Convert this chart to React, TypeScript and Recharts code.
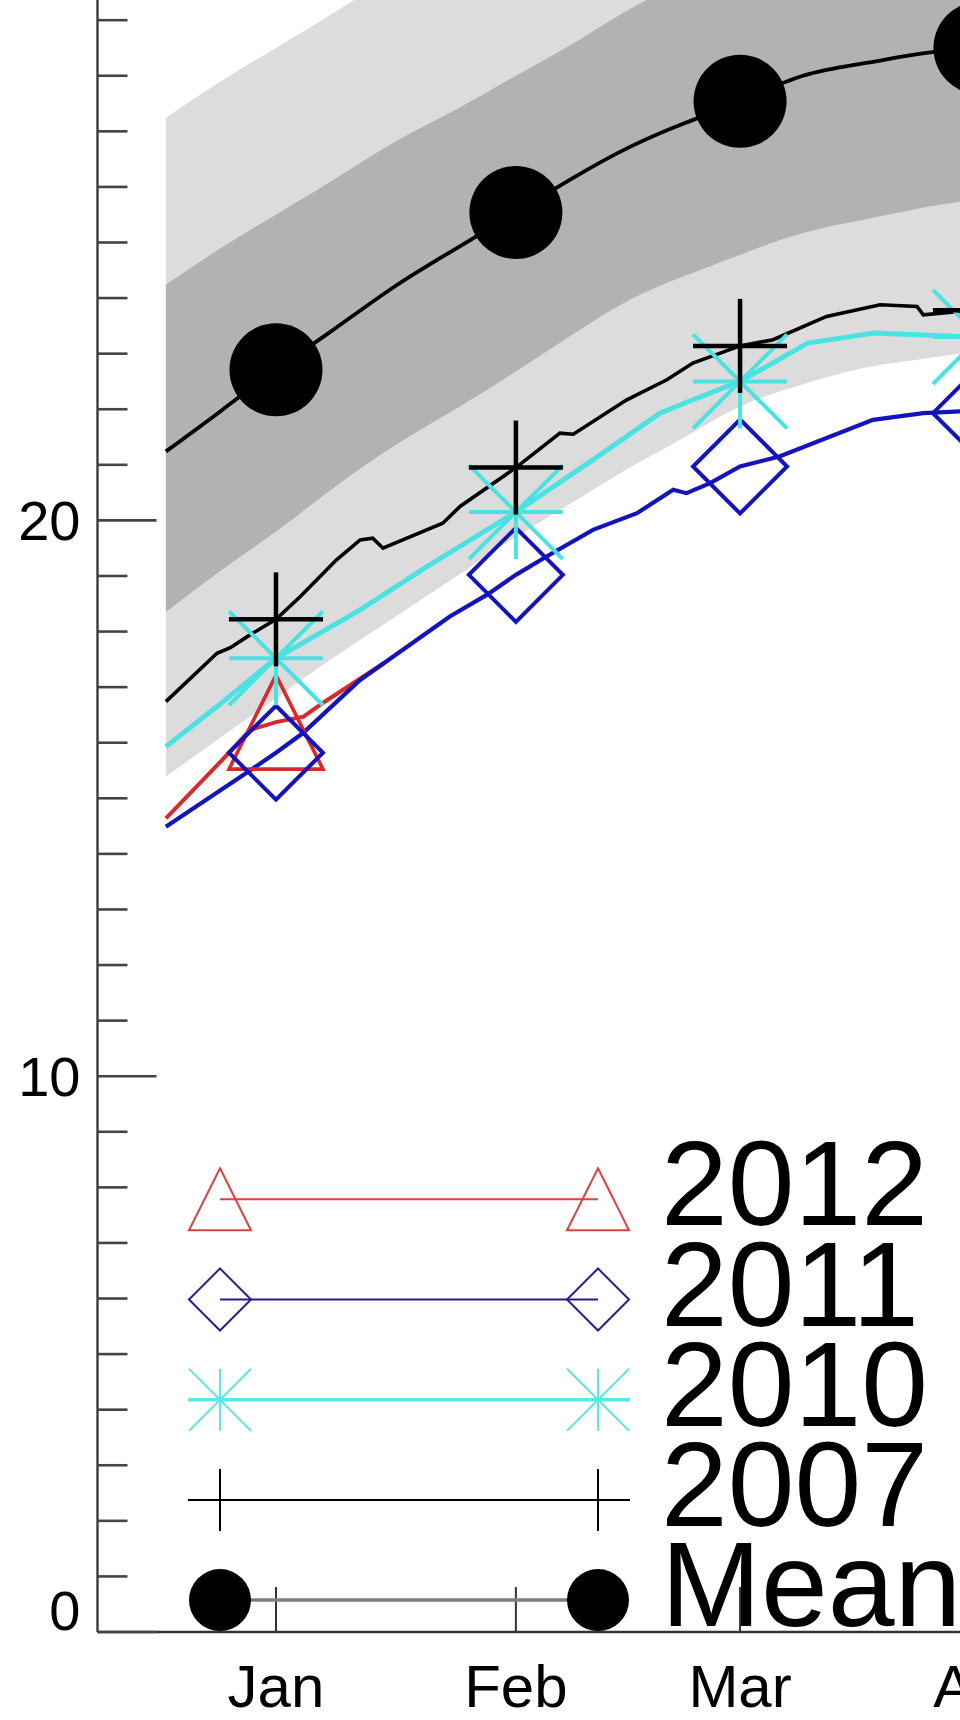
import React from 'react';
import { ComposedChart, Area, Line, XAxis, YAxis, Legend } from 'recharts';

const FONT = '"Liberation Sans", Arial, Helvetica, sans-serif';

// ---- axes ----
const MONTH_LABELS = ['Jan', 'Feb', 'Mar', 'Apr'];
const MONTH_DAYS = [15, 45.5, 74, 104.5];
const Y_TICKS = [0, 1, 2, 3, 4, 5, 6, 7, 8, 9, 10, 11, 12, 13, 14, 15, 16, 17, 18, 19, 20, 21, 22, 23, 24, 25, 26, 27, 28, 29];

// ---- climatology (mean and spread bands) ----
const BAND_DAYS = [1, 8, 15, 22, 30, 38, 45.5, 53, 60, 67, 74, 82, 90, 97, 104.5, 112];
const MEAN_VOLUME = [21.24, 21.97, 22.71, 23.4, 24.2, 24.9, 25.54, 26.18, 26.72, 27.15, 27.54, 28.0, 28.23, 28.4, 28.5, 28.6];
const SD1_LOW = [18.35, 19.1, 19.8, 20.55, 21.34, 22.02, 22.68, 23.37, 23.97, 24.4, 24.78, 25.17, 25.42, 25.62, 25.78, 25.88];
const SD1_HIGH = [24.24, 24.9, 25.5, 26.1, 26.8, 27.4, 28.0, 28.6, 29.2, 29.7, 30.1, 30.4, 30.7, 30.9, 31.0, 31.1];
const SD2_LOW = [15.39, 16.1, 16.8, 17.5, 18.25, 19.0, 19.7, 20.35, 20.95, 21.5, 22.05, 22.45, 22.75, 22.9, 23.05, 23.15];
const SD2_HIGH = [27.24, 27.9, 28.5, 29.1, 29.8, 30.4, 31.0, 31.5, 32.0, 32.4, 32.8, 33.1, 33.4, 33.6, 33.8, 34.0];

// ---- individual years ----
const DAYS_2012 = [1, 8.1, 11.7, 15, 18.5, 21, 28.7];
const VOL_2012 = [14.64, 15.68, 16.23, 16.37, 16.47, 16.72, 17.43];

const DAYS_2011 = [1, 11.7, 15, 18.4, 25.7, 37.1, 41.8, 45.5, 49.4, 55.3, 60.9, 65.5, 67.2, 70.2, 74, 79, 90.9, 97.3, 102, 104.5, 110];
const VOL_2011 = [14.49, 15.5, 15.82, 16.17, 17.13, 18.27, 18.66, 19.02, 19.35, 19.83, 20.13, 20.55, 20.49, 20.67, 20.97, 21.15, 21.81, 21.93, 21.96, 21.93, 22.0];

const DAYS_2010 = [1, 7.5, 15, 25.7, 34.2, 45.5, 55.3, 63.8, 68, 74, 82.6, 91, 102, 104.5, 110];
const VOL_2010 = [15.93, 16.65, 17.52, 18.39, 19.17, 20.15, 21.09, 21.93, 22.17, 22.5, 23.19, 23.37, 23.31, 23.3, 23.35];

const DAYS_2007 = [1, 7.5, 9.2, 11.7, 15, 18.1, 22.7, 25.7, 27.3, 28.6, 36.2, 38.4, 45.5, 51.1, 52.8, 59.6, 64.7, 68, 74, 78.2, 85, 91.8, 96.5, 97.3, 102, 104.5, 110];
const VOL_2007 = [16.74, 17.61, 17.71, 17.94, 18.22, 18.63, 19.29, 19.65, 19.68, 19.5, 19.95, 20.25, 20.95, 21.57, 21.55, 22.17, 22.53, 22.83, 23.14, 23.25, 23.67, 23.88, 23.85, 23.7, 23.76, 23.78, 23.8];

// ---- styling of series ----
type Kind = 'circle' | 'plus' | 'asterisk' | 'diamond' | 'triangle';
const SERIES_STYLE: Record<string, { color: string; legendColor: string; kind: Kind; width: number; markW: number; legendW: number; longLine: boolean }> = {
  '2012': { color: '#d82a2a', legendColor: '#d84444', kind: 'triangle', width: 4, markW: 3.6, legendW: 2, longLine: false },
  '2011': { color: '#1414bc', legendColor: '#20208c', kind: 'diamond', width: 4.2, markW: 4, legendW: 2, longLine: false },
  '2010': { color: '#4ae2e2', legendColor: '#5ce6e6', kind: 'asterisk', width: 5, markW: 4, legendW: 2, longLine: true },
  '2007': { color: '#000000', legendColor: '#000000', kind: 'plus', width: 3.6, markW: 4.5, legendW: 2, longLine: true },
  Mean: { color: '#000000', legendColor: '#000000', kind: 'circle', width: 3.8, markW: 0, legendW: 0, longLine: false },
};
const LEGEND_ORDER = ['2012', '2011', '2010', '2007', 'Mean'];

const toPoints = (days: number[], vals: number[]) => days.map((d, i) => ({ day: d, v: vals[i] }));
const bandData = BAND_DAYS.map((d, i) => ({
  day: d,
  outer: [SD2_LOW[i], SD2_HIGH[i]],
  inner: [SD1_LOW[i], SD1_HIGH[i]],
}));
const meanData = toPoints(BAND_DAYS, MEAN_VOLUME);
const data2012 = toPoints(DAYS_2012, VOL_2012);
const data2011 = toPoints(DAYS_2011, VOL_2011);
const data2010 = toPoints(DAYS_2010, VOL_2010);
const data2007 = toPoints(DAYS_2007, VOL_2007);

function shape(kind: Kind, cx: number, cy: number, h: number, color: string, sw: number, key?: any) {
  switch (kind) {
    case 'circle':
      return <circle key={key} cx={cx} cy={cy} r={h} fill={color} />;
    case 'plus':
      return (
        <g key={key} stroke={color} strokeWidth={sw}>
          <line x1={cx - h} x2={cx + h} y1={cy} y2={cy} />
          <line x1={cx} x2={cx} y1={cy - h} y2={cy + h} />
        </g>
      );
    case 'asterisk':
      return (
        <g key={key} stroke={color} strokeWidth={sw}>
          <line x1={cx - h} x2={cx + h} y1={cy} y2={cy} />
          <line x1={cx} x2={cx} y1={cy - h} y2={cy + h} />
          <line x1={cx - h} x2={cx + h} y1={cy - h} y2={cy + h} />
          <line x1={cx - h} x2={cx + h} y1={cy + h} y2={cy - h} />
        </g>
      );
    case 'diamond':
      return (
        <polygon key={key} points={`${cx},${cy - h} ${cx + h},${cy} ${cx},${cy + h} ${cx - h},${cy}`} fill="none" stroke={color} strokeWidth={sw} />
      );
    case 'triangle':
    default:
      return (
        <polygon key={key} points={`${cx},${cy - h} ${cx + h},${cy + h} ${cx - h},${cy + h}`} fill="none" stroke={color} strokeWidth={sw} />
      );
  }
}

const makeDot = (name: string) => (p: any) => {
  const st = SERIES_STYLE[name];
  const key = `${name}-${p.index}`;
  if (!p.payload || MONTH_DAYS.indexOf(p.payload.day) < 0 || p.cx == null || p.cy == null) return <g key={key} />;
  return shape(st.kind, p.cx, p.cy, st.kind === 'circle' ? 46.5 : 47, st.color, st.markW, key);
};

function YTick(props: any) {
  const { x, y, payload } = props;
  const v = payload.value;
  const major = v % 10 === 0;
  return (
    <g>
      <line x1={x} x2={x + (major ? 59 : 30)} y1={y} y2={y} stroke="#444" strokeWidth={2.6} />
      {major && (
        <text x={x - 17} y={v === 0 ? y - 2 : y + 20} textAnchor="end" fontSize={56} fontFamily={FONT} fill="#000">
          {v}
        </text>
      )}
    </g>
  );
}

function XTick(props: any) {
  const { x, y, payload } = props;
  const idx = MONTH_DAYS.indexOf(payload.value);
  return (
    <g>
      <line x1={x} x2={x} y1={y} y2={y - 45} stroke="#333" strokeWidth={2} />
      <text x={x} y={y + 75} textAnchor="middle" fontSize={60} fontFamily={FONT} fill="#000">
        {MONTH_LABELS[idx]}
      </text>
    </g>
  );
}

function LegendBox() {
  const left = 38, right = 480, m1 = 70, m2 = 448, textX = 511;
  return (
    <svg width={810} height={520} style={{ display: 'block', overflow: 'hidden' }}>
      {LEGEND_ORDER.map((name, i) => {
        const st = SERIES_STYLE[name];
        const cy = 79.3 + i * 100.2;
        const lx1 = st.longLine ? left : m1;
        const lx2 = st.longLine ? right : m2;
        return (
          <g key={name}>
            {name === 'Mean' ? (
              <line x1={m1} x2={m2} y1={cy} y2={cy} stroke="#7c7c7c" strokeWidth={3.5} />
            ) : (
              <line x1={lx1} x2={lx2} y1={cy} y2={cy} stroke={st.legendColor} strokeWidth={name === '2010' ? 3.5 : 2} />
            )}
            {shape(st.kind, m1, cy, 31, st.legendColor, st.legendW)}
            {shape(st.kind, m2, cy, 31, st.legendColor, st.legendW)}
            <text x={textX} y={cy + 26} fontSize={120} fontFamily={FONT} fill="#000">
              {name}
            </text>
          </g>
        );
      })}
    </svg>
  );
}

export default function App() {
  return (
    <div style={{ position: 'absolute', left: 0, top: 0, width: 960, height: 1720, overflow: 'hidden', background: '#fff' }}>
      <ComposedChart width={1100} height={1720} margin={{ top: 0, right: 0, bottom: 0, left: 0.5 }}>
        <XAxis
          type="number"
          dataKey="day"
          domain={[-7.69, 119.76]}
          allowDataOverflow
          ticks={MONTH_DAYS}
          interval={0}
          height={88}
          tickSize={0}
          tickMargin={0}
          tickLine={false}
          tick={<XTick />}
          axisLine={{ stroke: '#333', strokeWidth: 2.4 }}
        />
        <YAxis
          type="number"
          domain={[0, 29.363]}
          allowDataOverflow
          ticks={Y_TICKS}
          interval={0}
          width={97}
          tickSize={0}
          tickMargin={0}
          tickLine={false}
          tick={<YTick />}
          axisLine={{ stroke: '#333', strokeWidth: 2.3 }}
        />
        <Area data={bandData} dataKey="outer" type="natural" fill="#dcdcdc" fillOpacity={1} stroke="none" isAnimationActive={false} legendType="none" activeDot={false} dot={false} />
        <Area data={bandData} dataKey="inner" type="natural" fill="#b2b2b2" fillOpacity={1} stroke="none" isAnimationActive={false} legendType="none" activeDot={false} dot={false} />
        <Line data={data2012} dataKey="v" name="2012" type="linear" stroke={SERIES_STYLE['2012'].color} strokeWidth={SERIES_STYLE['2012'].width} dot={makeDot('2012')} activeDot={false} isAnimationActive={false} />
        <Line data={data2011} dataKey="v" name="2011" type="linear" stroke={SERIES_STYLE['2011'].color} strokeWidth={SERIES_STYLE['2011'].width} dot={makeDot('2011')} activeDot={false} isAnimationActive={false} />
        <Line data={data2010} dataKey="v" name="2010" type="linear" stroke={SERIES_STYLE['2010'].color} strokeWidth={SERIES_STYLE['2010'].width} dot={makeDot('2010')} activeDot={false} isAnimationActive={false} />
        <Line data={data2007} dataKey="v" name="2007" type="linear" stroke={SERIES_STYLE['2007'].color} strokeWidth={SERIES_STYLE['2007'].width} dot={makeDot('2007')} activeDot={false} isAnimationActive={false} />
        <Line data={meanData} dataKey="v" name="Mean" type="natural" stroke="#000" strokeWidth={SERIES_STYLE.Mean.width} dot={makeDot('Mean')} activeDot={false} isAnimationActive={false} />
        <Legend
          layout="vertical"
          align="center"
          verticalAlign="middle"
          content={<LegendBox />}
          wrapperStyle={{ left: 150, top: 1120, width: 810, height: 520, right: 'auto', bottom: 'auto' }}
        />
      </ComposedChart>
    </div>
  );
}
